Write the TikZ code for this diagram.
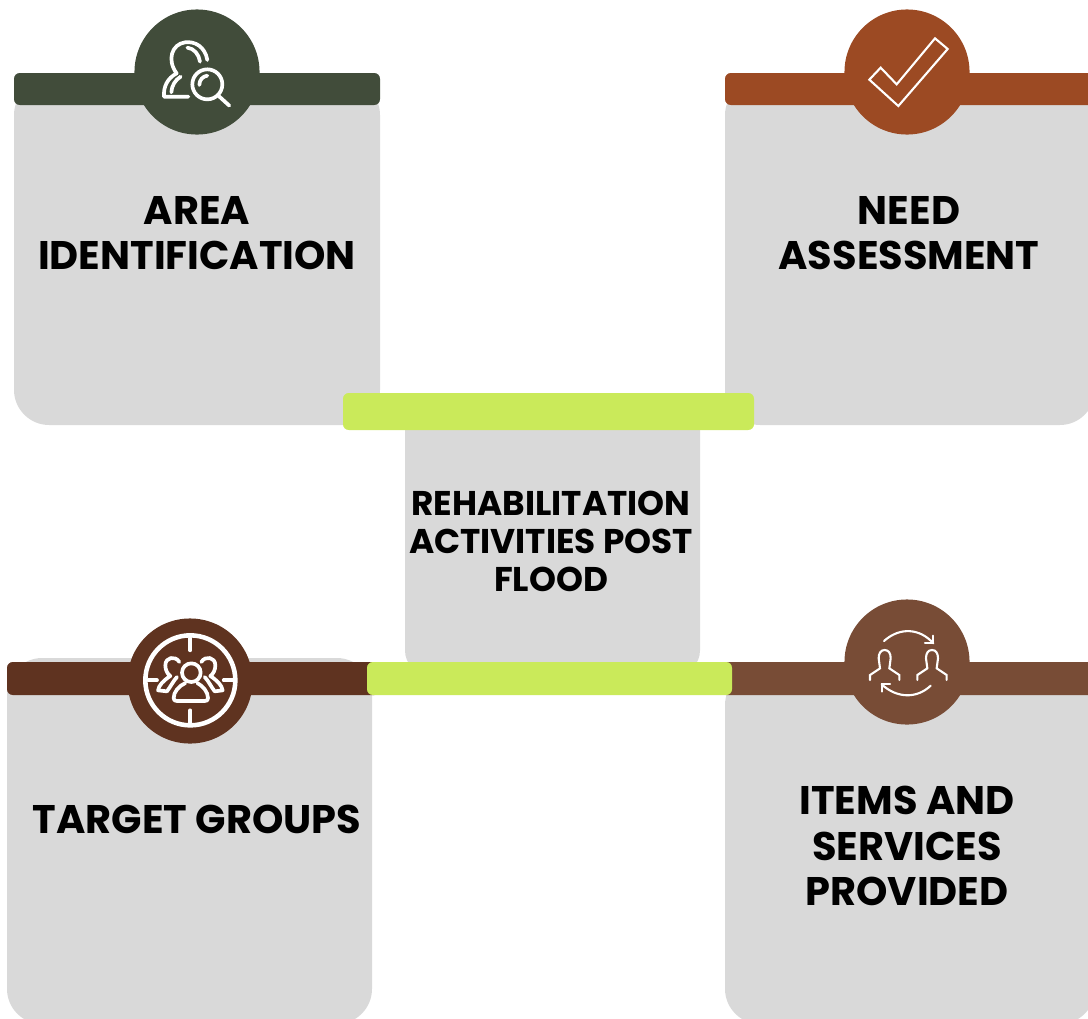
\documentclass[tikz,border=0pt]{standalone}
\usepackage{fontspec}
\setmainfont{Poppins}
\usetikzlibrary{positioning}
\definecolor{cardgray}{HTML}{D9D9D9}
\definecolor{limebar}{HTML}{CAEA5A}
\definecolor{areagreen}{HTML}{414C3A}
\definecolor{needrust}{HTML}{9C4A23}
\definecolor{targetbrown}{HTML}{5F3320}
\definecolor{itemsbrown}{HTML}{784C36}
\tikzset{
    card/.style={fill=cardgray},
    bar/.style={rounded corners=5.5pt*0.3},
    badge/.style={circle,inner sep=0pt,minimum size=1.25cm},
    bigtext/.style={align=center,font=\fontsize{11.35}{13}\selectfont\bfseries},
    midtext/.style={align=center,font=\fontsize{9.75}{10.8}\selectfont\bfseries},
    icon/.style={draw=white,line width=1.05pt,line cap=round,line join=round},
    thinicon/.style={draw=white,line width=.6pt,line cap=round,line join=miter},
}
\begin{document}
\begin{tikzpicture}[x=0.01cm,y=-0.01cm]
\clip (0,0) rectangle (1088,1018);
% grey cards
\fill[card,rounded corners=10pt] (14,80) -- (380,80) -- (380,425) -- (14,425) -- cycle;
\fill[card,rounded corners=10pt] (725,80) -- (1095,80) -- (1095,425) -- (725,425) -- cycle;
\fill[card,rounded corners=10pt] (7,658) -- (372,658) -- (372,1024) -- (7,1024) -- cycle;
\fill[card,rounded corners=10pt] (725,670) -- (1095,670) -- (1095,1024) -- (725,1024) -- cycle;
\fill[card,rounded corners=7pt] (405,400) -- (700,400) -- (700,675) -- (405,675) -- cycle;
% bars
\fill[areagreen,bar] (14,73) rectangle (380,105);
\fill[needrust,bar] (725,73) rectangle (1100,105);
\fill[targetbrown,bar] (7,662) rectangle (380,695);
\fill[itemsbrown,bar] (720,662) rectangle (1100,695);
\fill[limebar,bar] (343,393) rectangle (754,430);
\fill[limebar,bar] (367,662) rectangle (732,695);
% badges
\node[badge,fill=areagreen] (areabadge) at (197,72) {};
\node[badge,fill=needrust] (needbadge) at (907,72) {};
\node[badge,fill=targetbrown] (targetbadge) at (190,681) {};
\node[badge,fill=itemsbrown] (itemsbadge) at (907,662) {};
% texts
\node[bigtext] (area) at (197,233) {AREA\\IDENTIFICATION};
\node[bigtext] (need) at (909,233) {NEED\\ASSESSMENT};
\node[bigtext] (target) at (197,819) {TARGET GROUPS};
\node[bigtext] (items) at (907,846) {ITEMS AND\\SERVICES\\PROVIDED};
\node[midtext] (rehab) at (551,541) {REHABILITATION\\ACTIVITIES POST\\FLOOD};
% area icon
\begin{scope}[shift={(130,5)},scale=1/3]
\draw[icon] (232,165) .. controls (225,125) and (195,108) .. (165,112)
    .. controls (125,118) and (110,165) .. (140,205)
    .. controls (112,220) and (100,245) .. (102,275) -- (175,275);
\draw[icon] (172,128) .. controls (192,130) and (207,148) .. (210,170);
\draw[icon] (152,215) .. controls (135,225) and (125,243) .. (124,262);
\draw[icon] (232,238) circle (45);
\draw[icon] (208,240) .. controls (208,225) and (218,214) .. (232,212);
\draw[icon] (265,272) -- (298,302);
\end{scope}
% need icon
\begin{scope}[shift={(840,5)},scale=1/3]
\draw[thinicon] (88,224) -- (122,188) -- (170,238) -- (285,100) -- (323,132) -- (175,303) -- cycle;
\end{scope}
% target icon
\begin{scope}[shift={(122,612)},scale=1/3]
\draw[icon,line width=1.3pt] (205,205) circle (135);
\draw[icon] (205,78) -- (205,115) (205,295) -- (205,332) (78,205) -- (105,205) (305,205) -- (332,205);
\draw[icon] (208,182) circle (28);
\draw[icon] (190,213) .. controls (170,222) and (155,240) .. (155,258)
    .. controls (155,265) and (158,267) .. (165,267) -- (248,267)
    .. controls (255,267) and (258,265) .. (258,258)
    .. controls (258,240) and (243,222) .. (226,213);
\draw[icon] (172,150) .. controls (160,130) and (130,135) .. (130,160)
    .. controls (130,172) and (135,185) .. (145,192)
    .. controls (125,205) and (110,220) .. (108,235) -- (135,238)
    .. controls (145,225) and (155,205) .. (165,195);
\draw[icon] (238,150) .. controls (250,130) and (280,135) .. (280,160)
    .. controls (280,172) and (275,185) .. (265,192)
    .. controls (285,205) and (300,220) .. (302,235) -- (278,238)
    .. controls (268,225) and (258,205) .. (248,195);
\end{scope}
% items icon
\begin{scope}[shift={(840,595)},scale=1/3]
\draw[thinicon] (132,138) .. controls (180,95) and (240,100) .. (280,145);
\draw[thinicon] (280,122) -- (280,145) -- (255,145);
\draw[thinicon] (272,272) .. controls (230,312) and (170,310) .. (125,268);
\draw[thinicon] (125,290) -- (125,268) -- (150,268);
\foreach \dx in {0,142} {
\draw[thinicon,shift={(\dx,0)}] (90,255) -- (90,240) -- (120,220) -- (116,190)
    .. controls (116,175) and (122,165) .. (134,165)
    .. controls (146,165) and (152,175) .. (152,190) -- (148,220) -- (178,240) -- (178,255);
}
\end{scope}
\end{tikzpicture}
\end{document}
